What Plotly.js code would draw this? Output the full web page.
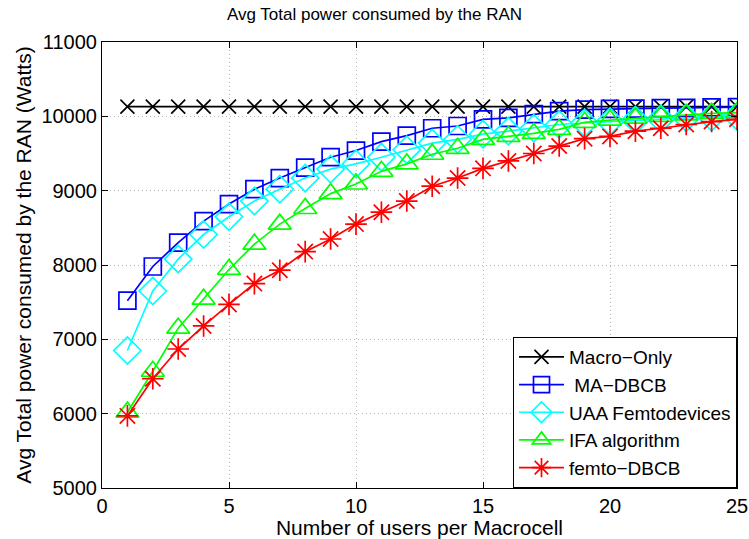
<!DOCTYPE html>
<html>
<head>
<meta charset="utf-8">
<script src="https://cdn.plot.ly/plotly-3.0.1.min.js"></script>
<style>html,body{margin:0;padding:0;background:#fff}</style>
</head>
<body>
<div id="chart" style="width:749px;height:539px"></div>
<script>
const users = [1,2,3,4,5,6,7,8,9,10,11,12,13,14,15,16,17,18,19,20,21,22,23,24,25];
const macroOnly = [10130,10130,10130,10130,10130,10130,10130,10130,10130,10130,10130,10130,10130,10130,10130,10130,10130,10130,10130,10130,10130,10130,10130,10130,10130];
const maDbcb = [7520,7980,8300,8590,8820,9020,9170,9310,9450,9540,9660,9740,9840,9870,9960,9980,10030,10070,10090,10100,10105,10110,10115,10120,10125];
const uaaFemto = [6850,7650,8080,8410,8650,8860,9020,9170,9290,9360,9450,9550,9640,9690,9760,9800,9840,9890,9910,9930,9950,9965,9980,9990,10000];
const ifaAlg = [6020,6570,7150,7540,7940,8280,8550,8760,8960,9090,9260,9360,9490,9570,9690,9730,9770,9825,9920,9950,9975,10000,10020,10040,10050];
const femtoDbcb = [5970,6470,6870,7180,7470,7750,7930,8180,8350,8550,8710,8860,9060,9170,9300,9400,9500,9600,9700,9730,9800,9840,9890,9930,9960];
const xTicks = [0,5,10,15,20,25];
const yTicks = [5000,6000,7000,8000,9000,10000,11000];

const names = ['Macro\u2212Only', ' MA\u2212DBCB', 'UAA Femtodevices', 'IFA algorithm', 'femto\u2212DBCB'];
const series = [macroOnly, maDbcb, uaaFemto, ifaAlg, femtoDbcb];
const colors = ['#000000', '#0000ff', '#00ffff', '#00ff00', '#ff0000'];
const symbols = ['x-thin-open', 'square-open', 'diamond-open', 'triangle-up-open', 'asterisk-open'];
const sizes = [14, 17, 21, 20, 18];

const traces = series.map((y, i) => ({
  x: users, y: y, name: names[i], type: 'scatter', mode: 'lines+markers',
  legendgroup: 'g' + i,
  line: {color: colors[i], width: 1.7},
  marker: {symbol: symbols[i], size: sizes[i], color: colors[i], line: {color: colors[i], width: 1.7}}
}));

const fam = 'Liberation Sans, Arial, Helvetica, sans-serif';
const axisCommon = {
  ticks: 'inside', ticklen: 6, tickcolor: '#000', tickwidth: 1,
  showline: true, linecolor: '#000', linewidth: 1, mirror: 'ticks',
  showgrid: true, gridcolor: '#b4b4b4', griddash: '1px,3px', gridwidth: 1, zeroline: false,
  tickfont: {family: fam, size: 20, color: '#000'}, tickformat: 'd'
};
const layout = {
  width: 749, height: 539,
  margin: {l: 102, r: 12, t: 42, b: 51},
  paper_bgcolor: '#fff', plot_bgcolor: '#fff',
  font: {family: fam, size: 16, color: '#000'},
  title: {text: 'Avg Total power consumed by the RAN', font: {family: fam, size: 17, color: '#000'},
          x: 0.5, xanchor: 'center', y: 0.985, yanchor: 'top'},
  xaxis: Object.assign({}, axisCommon, {
    range: [0, 25], tickvals: xTicks,
    title: {text: 'Number of users per Macrocell', font: {family: fam, size: 21, color: '#000'}, standoff: 0}
  }),
  yaxis: Object.assign({}, axisCommon, {
    range: [5000, 11000], tickvals: yTicks,
    title: {text: 'Avg Total power consumed by the RAN (Watts)', font: {family: fam, size: 21, color: '#000'}, standoff: 4}
  }),
  legend: {
    x: 1, y: 0, xanchor: 'right', yanchor: 'bottom',
    bgcolor: '#fff', bordercolor: '#000', borderwidth: 1,
    font: {family: fam, size: 19, color: '#000'}, itemwidth: 45, tracegroupgap: 0
  },
  showlegend: true
};
Plotly.newPlot('chart', traces, layout, {displayModeBar: false, staticPlot: true});
</script>
</body>
</html>
